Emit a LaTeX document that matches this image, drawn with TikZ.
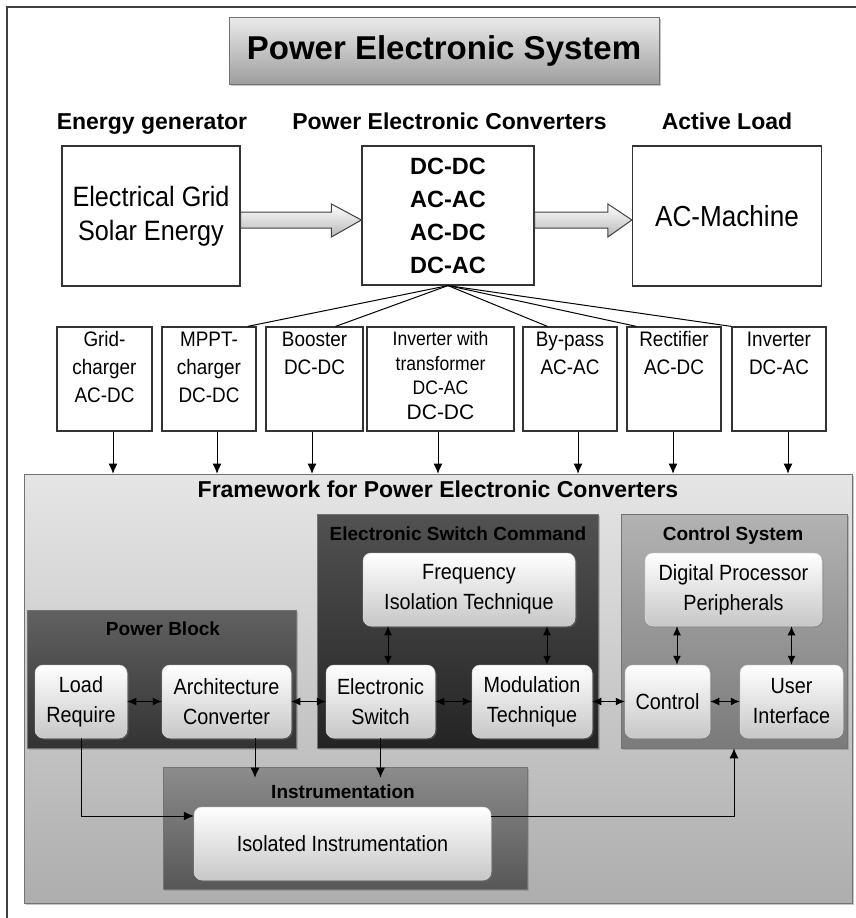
\documentclass[tikz,border=0pt]{standalone}
\usepackage{fontspec}
\setmainfont{Liberation Sans}
\newfontfamily\narrowsf[FakeStretch=0.9]{Liberation Sans}
\usepackage{tikz}
\usetikzlibrary{positioning, arrows.meta, shadows, calc}

\tikzset{
  boxplain/.style={draw=black!80, line width=1.2pt, fill=white, inner sep=0pt, align=center},
  subbox/.style={draw=black!80, line width=1.2pt, fill=white, minimum height=104pt, inner sep=0pt},
  subtext/.style={font=\narrowsf\fontsize{21}{28}\selectfont, align=center, inner sep=5pt, anchor=north},
  hdr/.style={font=\bfseries\fontsize{23}{26}\selectfont, anchor=base, inner sep=0pt},
  panel/.style={draw=black!55, line width=0.6pt, inner sep=0pt,
    drop shadow={opacity=0.45, shadow xshift=2pt, shadow yshift=-2pt}},
  paneltitle/.style={font=\bfseries\fontsize{19}{22}\selectfont, anchor=base, inner sep=0pt},
  softbox/.style={rounded corners=8pt, draw=black!15, line width=0.5pt, top color=white, bottom color=black!22,
    inner sep=0pt, minimum height=73pt, align=center, font=\narrowsf\fontsize{22}{30}\selectfont,
    drop shadow={opacity=0.4, shadow xshift=1.5pt, shadow yshift=-1.5pt}},
  fatarrow/.style={draw=black!75, line width=1pt, line join=miter, top color=white, bottom color=black!28},
  dbl/.style={{Latex[length=9pt,width=8pt]}-{Latex[length=9pt,width=8pt]}, line width=1pt},
  arr/.style={-{Latex[length=10pt,width=9pt]}, line width=1pt}
}

\begin{document}
\begin{tikzpicture}[x=1pt, y=-1pt]
  \useasboundingbox (0,0) rectangle (856,918);
  % outer frame, cut by the page on the right and at the bottom
  \draw[black!75, line width=1.5pt] (7,7) rectangle (880,940);

  \node[panel, top color=black!8, bottom color=black!38, minimum width=430, minimum height=67,
        font=\bfseries\fontsize{33}{36}\selectfont] (title) at (444,50.5) {Power Electronic System};

  % top row
  \node[hdr] (hgen)  at (152,129)   {Energy generator};
  \node[hdr] (hconv) at (449.5,129) {Power Electronic Converters};
  \node[hdr] (hload) at (727,129)   {Active Load};

  \node[boxplain, minimum width=178, minimum height=140, font=\narrowsf\fontsize{28}{34}\selectfont]
       (gen) at (151,216) {Electrical Grid\\Solar Energy};
  \node[boxplain, minimum width=172, minimum height=139, font=\bfseries\fontsize{23.5}{33}\selectfont]
       (conv) at (448,215.5) {DC-DC\\AC-AC\\AC-DC\\DC-AC};
  \node[boxplain, minimum width=189, minimum height=140, font=\narrowsf\fontsize{29}{34}\selectfont]
       (load) at (727,216) {AC-Machine};

  % hollow arrows generator -> converters -> load
  \draw[fatarrow] ($(gen.east)+(0,-4)$) -- ($(conv.west)+(-30,-3.5)$) -- ($(conv.west)+(-30,-11.5)$)
       -- ($(conv.west)+(0,4.5)$) -- ($(conv.west)+(-30,21.5)$) -- ($(conv.west)+(-30,12.5)$)
       -- ($(gen.east)+(0,12)$) -- cycle;
  \draw[fatarrow] ($(conv.east)+(0,-3.5)$) -- ($(load.west)+(-24,-4)$) -- ($(load.west)+(-24,-12)$)
       -- ($(load.west)+(0,4)$) -- ($(load.west)+(-24,21)$) -- ($(load.west)+(-24,12)$)
       -- ($(conv.east)+(0,12.5)$) -- cycle;

  % framework background
  \node[panel, top color=black!10, bottom color=black!32, minimum width=828, minimum height=429]
       (frame) at (438,688.5) {};
  \node[paneltitle, font=\bfseries\fontsize{23}{24}\selectfont] (frame-t) at (438,497)
       {Framework for Power Electronic Converters};

  % converter types
  \foreach \n/\x/\w/\t in {g1/104.5/95/{Grid-\\charger\\AC-DC}, g2/209/94/{MPPT-\\charger\\DC-DC},
                           g3/314.5/97/{Booster\\DC-DC}, g5/570/94/{By-pass\\AC-AC},
                           g6/674/94/{Rectifier\\AC-DC}, g7/779/94/{Inverter\\DC-AC}}{
    \node[subbox, minimum width=\w] (\n) at (\x,379) {};
    \node[subtext] (\n-t) at (\n.north) {\t};
  }
  \node[subbox, minimum width=147] (g4) at (440.5,379) {};
  \node[subtext, font=\narrowsf\fontsize{19.5}{24.5}\selectfont] (g4-t) at (g4.north)
       {Inverter with\\transformer\\DC-AC\\{\normalfont\fontsize{21}{24.5}\selectfont DC-DC}};

  \draw[line width=1pt] (conv.south) -- ([xshift=-9pt]g2.north east);
  \draw[line width=1pt] (conv.south) -- ([xshift=-28pt]g3.north east);
  \draw[line width=1pt] (conv.south) -- ([xshift=25pt]g5.north west);
  \draw[line width=1pt] (conv.south) -- ([xshift=10pt]g6.north west);
  \draw[line width=1pt] (conv.south) -- (g7.north west);

  \foreach \n/\d in {g1/8.5, g2/8, g3/-2.5, g4/-2.5, g5/8, g6/-1, g7/9}{
    \coordinate (\n-o) at ([xshift=\d pt]\n.south);
    \draw[arr] (\n-o) -- (\n-o |- frame.north);
  }

  % blocks
  \node[panel, top color=black!62, bottom color=black!80, minimum width=269, minimum height=138]
       (pb) at (161.5,679) {};
  \node[paneltitle] (pb-t) at (163,635) {Power Block};
  \node[panel, top color=black!68, bottom color=black!86, minimum width=281, minimum height=234]
       (esc) at (457.5,631) {};
  \node[paneltitle] (esc-t) at (458,540) {Electronic Switch Command};
  \node[panel, top color=black!30, bottom color=black!52, minimum width=226, minimum height=234]
       (cs) at (734,631) {};
  \node[paneltitle] (cs-t) at (733,540) {Control System};
  \node[panel, top color=black!45, bottom color=black!66, minimum width=364, minimum height=122]
       (ins) at (345,828) {};
  \node[paneltitle] (ins-t) at (343,798) {Instrumentation};

  \node[softbox, minimum width=92]  (lr)  at (81,701.5)    {Load\\Require};
  \node[softbox, minimum width=129] (ac)  at (226.5,701.5) {Architecture\\Converter};
  \node[softbox, minimum width=212] (fit) at (469,589.5)   {Frequency\\Isolation Technique};
  \node[softbox, minimum width=109] (es)  at (380.5,701.5) {Electronic\\Switch};
  \node[softbox, minimum width=120] (mt)  at (532,701.5)   {Modulation\\Technique};
  \node[softbox, minimum width=177] (dp)  at (733.5,589.5) {Digital Processor\\Peripherals};
  \node[softbox, minimum width=85]  (ctl) at (667.5,701.5) {Control};
  \node[softbox, minimum width=103] (ui)  at (791.5,701.5) {User\\Interface};
  \node[softbox, minimum width=297] (ii)  at (342.5,843.5) {Isolated Instrumentation};

  \draw[dbl] (lr) -- (ac);
  \draw[dbl] (ac) -- (es);
  \draw[dbl] (es) -- (mt);
  \draw[dbl] (mt) -- (ctl);
  \draw[dbl] (ctl) -- (ui);

  \coordinate (es-up)  at ([xshift=7.5pt]es.north);
  \coordinate (mt-up)  at ([xshift=15pt]mt.north);
  \coordinate (ctl-up) at ([xshift=9.5pt]ctl.north);
  \draw[dbl] (es-up) -- (es-up |- fit.south);
  \draw[dbl] (mt-up) -- (mt-up |- fit.south);
  \draw[dbl] (ctl-up) -- (ctl-up |- dp.south);
  \draw[dbl] (ui.north) -- (ui.north |- dp.south);

  \coordinate (ac-dn) at ([xshift=28.5pt]ac.south);
  \draw[arr] (ac-dn) -- ($(ac-dn |- ins.north)+(0,11)$);
  \draw[arr] (es.south) -- ($(es.south |- ins.north)+(0,11)$);
  \draw[arr] (lr.south) |- ($(ii.west)+(0,-27.5)$);
  \draw[arr] ($(ii.east)+(0,-27.5)$) -| (cs.south);
\end{tikzpicture}
\end{document}
